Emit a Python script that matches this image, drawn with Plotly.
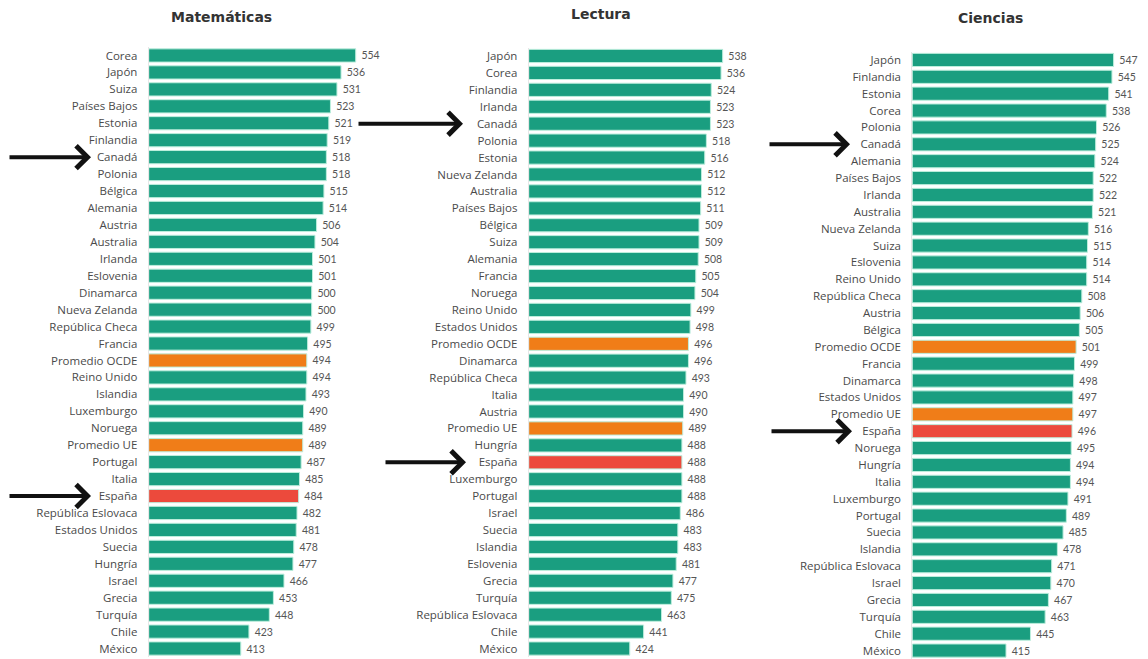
import plotly.graph_objects as go

W, H = 1148, 659

mat_countries = ["Corea", "Japón", "Suiza", "Países Bajos", "Estonia", "Finlandia", "Canadá", "Polonia",
                 "Bélgica", "Alemania", "Austria", "Australia", "Irlanda", "Eslovenia", "Dinamarca",
                 "Nueva Zelanda", "República Checa", "Francia", "Promedio OCDE", "Reino Unido", "Islandia",
                 "Luxemburgo", "Noruega", "Promedio UE", "Portugal", "Italia", "España", "República Eslovaca",
                 "Estados Unidos", "Suecia", "Hungría", "Israel", "Grecia", "Turquía", "Chile", "México"]
mat_scores = [554, 536, 531, 523, 521, 519, 518, 518, 515, 514, 506, 504, 501, 501, 500, 500, 499, 495,
              494, 494, 493, 490, 489, 489, 487, 485, 484, 482, 481, 478, 477, 466, 453, 448, 423, 413]

lec_countries = ["Japón", "Corea", "Finlandia", "Irlanda", "Canadá", "Polonia", "Estonia", "Nueva Zelanda",
                 "Australia", "Países Bajos", "Bélgica", "Suiza", "Alemania", "Francia", "Noruega",
                 "Reino Unido", "Estados Unidos", "Promedio OCDE", "Dinamarca", "República Checa", "Italia",
                 "Austria", "Promedio UE", "Hungría", "España", "Luxemburgo", "Portugal", "Israel", "Suecia",
                 "Islandia", "Eslovenia", "Grecia", "Turquía", "República Eslovaca", "Chile", "México"]
lec_scores = [538, 536, 524, 523, 523, 518, 516, 512, 512, 511, 509, 509, 508, 505, 504, 499, 498, 496,
              496, 493, 490, 490, 489, 488, 488, 488, 488, 486, 483, 483, 481, 477, 475, 463, 441, 424]

cie_countries = ["Japón", "Finlandia", "Estonia", "Corea", "Polonia", "Canadá", "Alemania", "Países Bajos",
                 "Irlanda", "Australia", "Nueva Zelanda", "Suiza", "Eslovenia", "Reino Unido",
                 "República Checa", "Austria", "Bélgica", "Promedio OCDE", "Francia", "Dinamarca",
                 "Estados Unidos", "Promedio UE", "España", "Noruega", "Hungría", "Italia", "Luxemburgo",
                 "Portugal", "Suecia", "Islandia", "República Eslovaca", "Israel", "Grecia", "Turquía",
                 "Chile", "México"]
cie_scores = [547, 545, 541, 538, 526, 525, 524, 522, 522, 521, 516, 515, 514, 514, 508, 506, 505, 501,
              499, 498, 497, 497, 496, 495, 494, 494, 491, 489, 485, 478, 471, 470, 467, 463, 445, 415]

panel_titles = ["Matemáticas", "Lectura", "Ciencias"]
highlight_countries = ["Canadá", "España"]

TEAL = "#1a9e80"
ORANGE = "#f07d18"
RED = "#ec4a3c"

def bar_color(name):
    if name.startswith("Promedio"):
        return ORANGE
    if name == "España":
        return RED
    return TEAL

XMIN, XMAX = 300, 585
SCALE = 0.815  # px per score point
panel_left_px = [148.7, 528.7, 912.3]
panel_y_px = [(47.0, 657.0), (47.5, 657.0), (51.5, 659.0)]
title_pos = [(221, 17), (601, 14), (990, 18)]
arrow_px = [
    {"Canadá": (8, 91), "España": (8, 91)},
    {"Canadá": (357, 463), "España": (384, 466)},
    {"Canadá": (768, 850), "España": (770, 852)},
]

data = [(mat_countries, mat_scores), (lec_countries, lec_scores), (cie_countries, cie_scores)]

fig = go.Figure()
annotations = []
layout_axes = {}
for i, (countries, scores) in enumerate(data):
    k = "" if i == 0 else str(i + 1)
    fig.add_trace(go.Bar(
        x=[s - XMIN for s in scores], y=countries, orientation="h", base=XMIN,
        marker=dict(color=[bar_color(c) for c in countries], line=dict(color="#bdeedd", width=1)),
        text=[" " + str(s) for s in scores], textposition="outside", cliponaxis=False,
        textfont=dict(family="Lato, Open Sans, sans-serif", size=10.5, color="#555555"),
        xaxis="x" + k, yaxis="y" + k, showlegend=False, hoverinfo="y",
    ))
    left = panel_left_px[i]
    right = left + (XMAX - XMIN) * SCALE
    top, bottom = panel_y_px[i]
    layout_axes["xaxis" + k] = dict(domain=[left / W, right / W], range=[XMIN, XMAX], visible=False,
                                    anchor="y" + k)
    layout_axes["yaxis" + k] = dict(domain=[max(0, 1 - bottom / H), 1 - top / H], anchor="x" + k,
                                    autorange="reversed", type="category", ticks="",
                                    showline=True, linecolor="#e6e6e6", linewidth=1,
                                    ticklabelstandoff=8, showgrid=False,
                                    tickfont=dict(family="Open Sans, sans-serif", size=11.5,
                                                  color="#4a4a4a"))
    tx, ty = title_pos[i]
    annotations.append(dict(text="<b>%s</b>" % panel_titles[i], x=tx / W, y=1 - ty / H,
                            xref="paper", yref="paper", showarrow=False, xanchor="center",
                            yanchor="middle",
                            font=dict(family="DejaVu Sans, sans-serif", size=14, color="#333333")))
    for c in highlight_countries:
        tail, tip = arrow_px[i][c]
        annotations.append(dict(x=tip / W, y=c, xref="paper", yref="y" + k, text="",
                                showarrow=True, ax=tail - tip, ay=0, axref="pixel", ayref="pixel",
                                arrowhead=4, arrowsize=1.1, arrowwidth=4, arrowcolor="#111111",
                                standoff=0))

fig.update_layout(
    width=W, height=H, margin=dict(l=0, r=0, t=0, b=0),
    paper_bgcolor="white", plot_bgcolor="white",
    bargap=0.22, annotations=annotations, **layout_axes,
)

fig.write_html("out.html")
